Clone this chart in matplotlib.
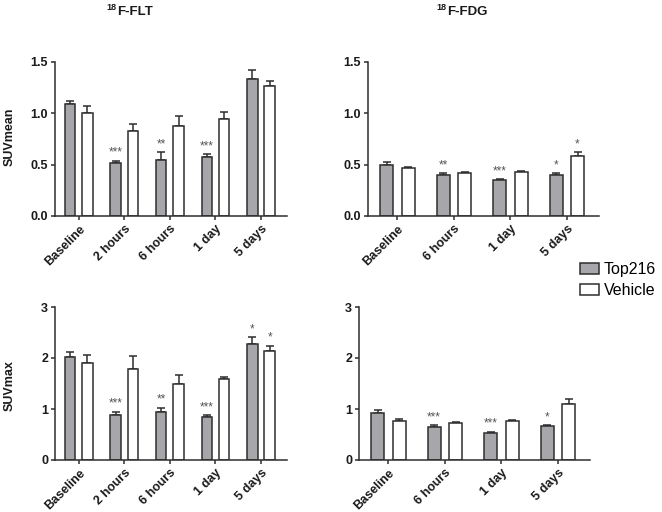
import numpy as np
import matplotlib
matplotlib.use("Agg")
import matplotlib.pyplot as plt
from matplotlib.patches import Patch

plt.rcParams['font.family'] = ['Liberation Sans', 'DejaVu Sans']

# groups
flt_groups = ['Baseline', '2 hours', '6 hours', '1 day', '5 days']
fdg_groups = ['Baseline', '6 hours', '1 day', '5 days']

# SUVmean, 18F-FLT
flt_mean_top = [1.09, 0.52, 0.55, 0.57, 1.33]
flt_mean_top_err = [0.03, 0.02, 0.07, 0.035, 0.09]
flt_mean_veh = [1.00, 0.83, 0.88, 0.94, 1.27]
flt_mean_veh_err = [0.07, 0.07, 0.095, 0.07, 0.045]
flt_mean_top_sig = ['', '***', '**', '***', '']
flt_mean_veh_sig = ['', '', '', '', '']

# SUVmean, 18F-FDG
fdg_mean_top = [0.50, 0.395, 0.35, 0.40]
fdg_mean_top_err = [0.025, 0.02, 0.01, 0.02]
fdg_mean_veh = [0.465, 0.418, 0.428, 0.588]
fdg_mean_veh_err = [0.012, 0.01, 0.012, 0.036]
fdg_mean_top_sig = ['', '**', '***', '*']
fdg_mean_veh_sig = ['', '', '', '*']

# SUVmax, 18F-FLT
flt_max_top = [2.02, 0.89, 0.94, 0.85, 2.28]
flt_max_top_err = [0.09, 0.06, 0.085, 0.026, 0.13]
flt_max_veh = [1.90, 1.79, 1.50, 1.58, 2.14]
flt_max_veh_err = [0.15, 0.24, 0.16, 0.05, 0.10]
flt_max_top_sig = ['', '***', '**', '***', '*']
flt_max_veh_sig = ['', '', '', '', '*']

# SUVmax, 18F-FDG
fdg_max_top = [0.93, 0.64, 0.536, 0.66]
fdg_max_top_err = [0.05, 0.046, 0.02, 0.03]
fdg_max_veh = [0.765, 0.72, 0.758, 1.09]
fdg_max_veh_err = [0.045, 0.025, 0.02, 0.11]
fdg_max_top_sig = ['', '***', '***', '*']
fdg_max_veh_sig = ['', '', '', '']

GRAY = '#a6a6ab'
EDGE = '#2e2e2e'
TXT = '#1a1a1a'


def panel(ax, groups, top, top_err, veh, veh_err, top_sig, veh_sig,
          ylim, yticks, yticklabels):
    x = np.arange(len(groups))
    bw = 0.23
    off = 0.19
    for xs, vals, errs, sig, fc in [(x - off, top, top_err, top_sig, GRAY),
                                   (x + off, veh, veh_err, veh_sig, 'white')]:
        ax.bar(xs, vals, bw, color=fc, edgecolor=EDGE, linewidth=1.1, zorder=2)
        ax.errorbar(xs, vals, yerr=[np.zeros(len(vals)), errs], fmt='none',
                    ecolor=EDGE, elinewidth=1.1, capsize=2.8, capthick=1.1, zorder=1)
        for xi, v, e, s in zip(xs, vals, errs, sig):
            if s:
                ax.annotate(s, (xi, v + e), xytext=(0, 3.5), textcoords='offset points',
                            ha='center', va='baseline', fontsize=8.5, color='#555555')
    ax.set_xlim(-0.52, len(groups) - 0.43)
    ax.set_ylim(*ylim)
    ax.set_xticks(x)
    ax.set_xticklabels(groups, rotation=45, ha='right', rotation_mode='anchor',
                       fontsize=9, fontweight='bold', color=TXT)
    ax.set_yticks(yticks)
    ax.set_yticklabels(yticklabels, fontsize=9, fontweight='bold', color=TXT)
    for s in ['top', 'right']:
        ax.spines[s].set_visible(False)
    for s in ['left', 'bottom']:
        ax.spines[s].set_linewidth(1.1)
        ax.spines[s].set_color(EDGE)
    ax.tick_params(axis='both', direction='out', length=3, width=1.1, color=EDGE, pad=2)


fig = plt.figure(figsize=(6.62, 5.12), dpi=100)

ax1 = fig.add_axes([55 / 662, 1 - 216 / 512, 232 / 662, 154 / 512])
panel(ax1, flt_groups, flt_mean_top, flt_mean_top_err, flt_mean_veh, flt_mean_veh_err,
      flt_mean_top_sig, flt_mean_veh_sig, (0, 1.5), [0, 0.5, 1.0, 1.5],
      ['0.0', '0.5', '1.0', '1.5'])

ax2 = fig.add_axes([368 / 662, 1 - 216 / 512, 231 / 662, 154 / 512])
panel(ax2, fdg_groups, fdg_mean_top, fdg_mean_top_err, fdg_mean_veh, fdg_mean_veh_err,
      fdg_mean_top_sig, fdg_mean_veh_sig, (0, 1.5), [0, 0.5, 1.0, 1.5],
      ['0.0', '0.5', '1.0', '1.5'])

ax3 = fig.add_axes([55 / 662, 1 - 460 / 512, 232 / 662, 153 / 512])
panel(ax3, flt_groups, flt_max_top, flt_max_top_err, flt_max_veh, flt_max_veh_err,
      flt_max_top_sig, flt_max_veh_sig, (0, 3), [0, 1, 2, 3], ['0', '1', '2', '3'])

ax4 = fig.add_axes([359 / 662, 1 - 460 / 512, 231 / 662, 153 / 512])
panel(ax4, fdg_groups, fdg_max_top, fdg_max_top_err, fdg_max_veh, fdg_max_veh_err,
      fdg_max_top_sig, fdg_max_veh_sig, (0, 3), [0, 1, 2, 3], ['0', '1', '2', '3'])

# titles with superscript mass numbers
for xc, name in [(117, 'F-FLT'), (447, 'F-FDG')]:
    fig.text(xc / 662, 1 - 15 / 512, name, fontsize=9.5, fontweight='bold',
             ha='left', va='baseline', color=TXT)
    fig.text(xc / 662, 1 - 10 / 512, '18', fontsize=6.5, fontweight='bold',
             ha='right', va='baseline', color=TXT)

fig.text(10 / 662, 1 - 137 / 512, 'SUVmean', rotation=90, fontsize=9,
         fontweight='bold', ha='center', va='center', color=TXT)
fig.text(10 / 662, 1 - 386 / 512, 'SUVmax', rotation=90, fontsize=9,
         fontweight='bold', ha='center', va='center', color=TXT)

handles = [Patch(facecolor=GRAY, edgecolor=EDGE, linewidth=1.1),
           Patch(facecolor='white', edgecolor=EDGE, linewidth=1.1)]
fig.legend(handles, ['Top216', 'Vehicle'], loc='center left',
           bbox_to_anchor=(580 / 662, 1 - 280 / 512), frameon=False, fontsize=11.5,
           handlelength=1.2, handleheight=0.7, handletextpad=0.3, labelspacing=0.35,
           borderpad=0, borderaxespad=0)

fig.savefig('out.png', dpi=100)
